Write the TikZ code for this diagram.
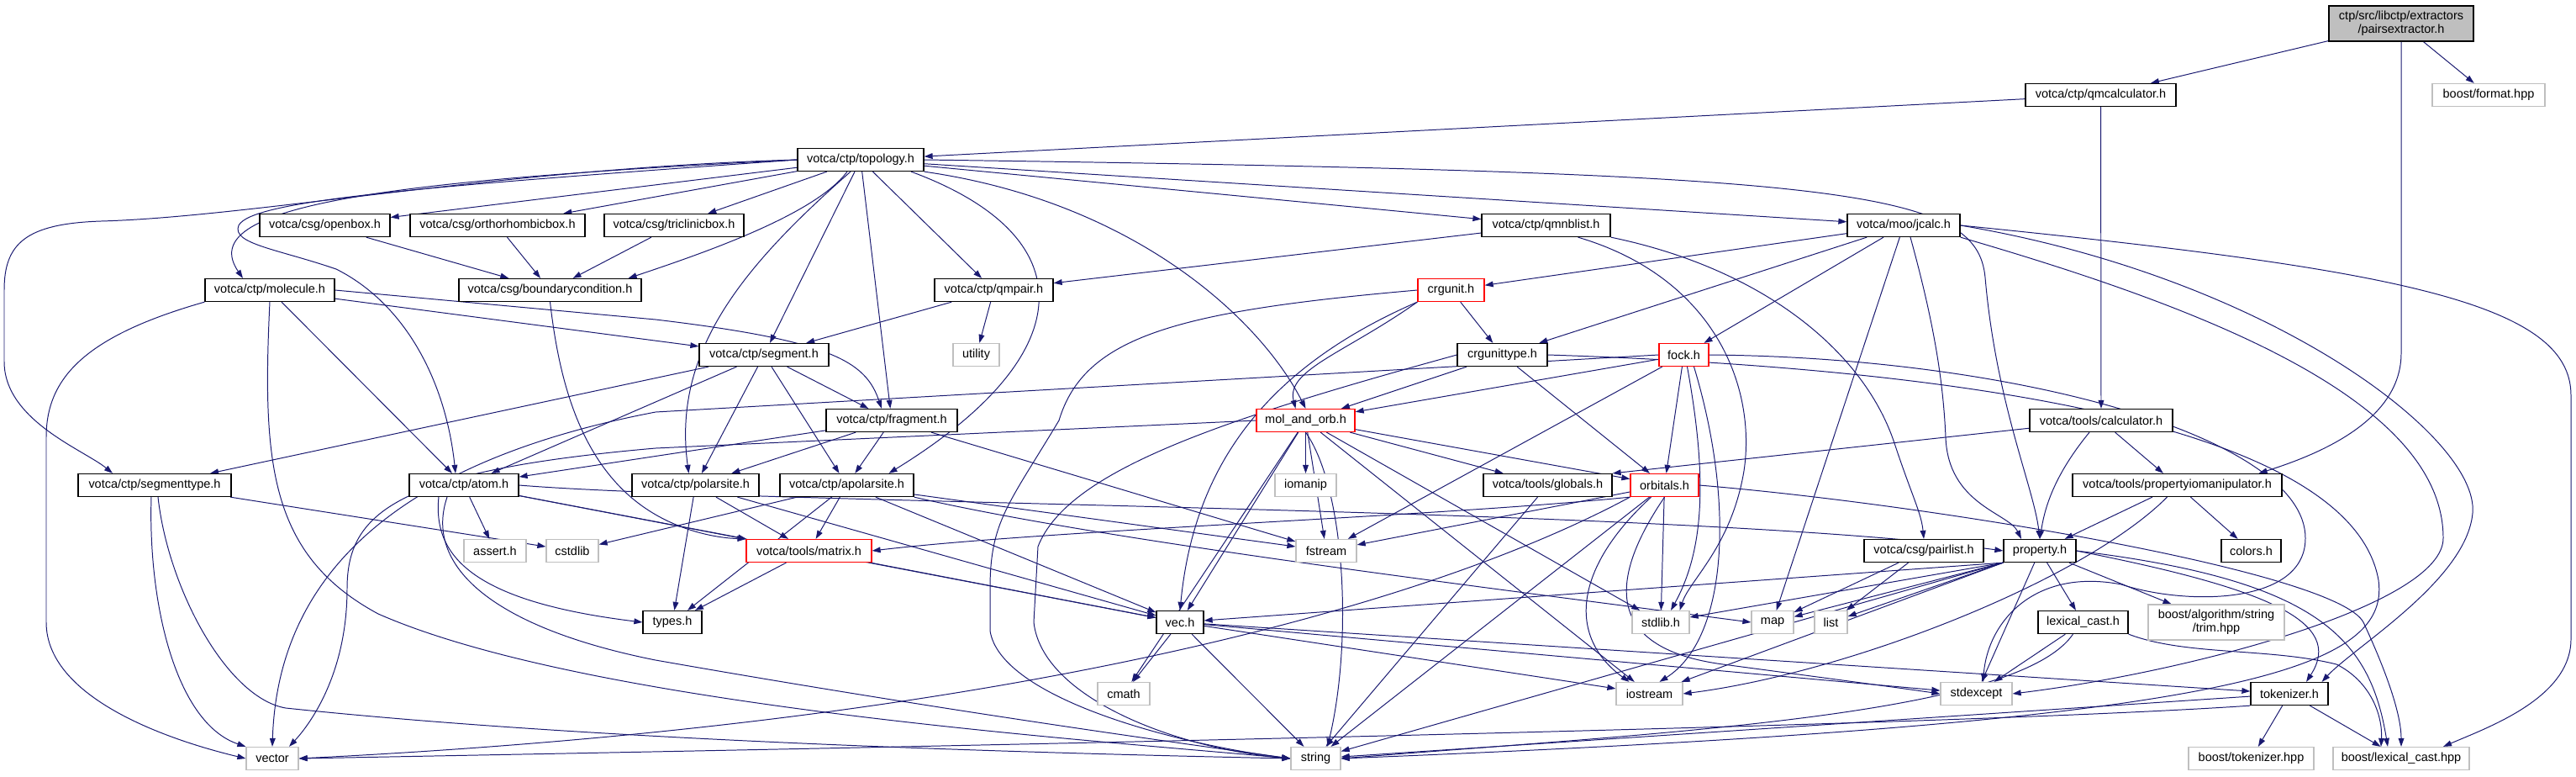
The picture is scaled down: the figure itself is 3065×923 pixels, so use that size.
\documentclass[tikz,border=0pt]{standalone}
\usepackage{fontspec}
\setmainfont{Liberation Sans}
\usetikzlibrary{arrows.meta,positioning}
\definecolor{edgeblue}{HTML}{191970}
\definecolor{extgray}{HTML}{BFBFBF}
\pgfdeclarelayer{edges}
\pgfsetlayers{edges,main}
\tikzset{
  hfile/.style={draw=black, fill=white, line width=0.9pt, minimum height=0.675cm, inner sep=0pt, font=\fontsize{10.3}{11.2}\selectfont},
  sysfile/.style={hfile, draw=extgray},
  trunc/.style={hfile, draw=red},
  rootfile/.style={hfile, fill=extgray, minimum height=1.05cm, align=center},
  bw/.style={minimum width=#1*0.025cm},
  dep/.style={draw=edgeblue, line width=0.7pt, -{Triangle[length=0.25cm,width=0.17cm]}}
}
\begin{document}
\begin{tikzpicture}[x=0.025cm, y=-0.025cm]
\useasboundingbox (0,0) rectangle (3065,923);
% files, one row of the include graph after the other
\node[rootfile, bw=172] (pe) at (2857,28) {ctp/src/libctp/extractors\\/pairsextractor.h};
\node[hfile, bw=179] (qmcalc) at (2499.5,113) {votca/ctp/qmcalculator.h};
\node[sysfile, bw=134] (format) at (2961,113) {boost/format.hpp};
\node[hfile, bw=150] (topo) at (1024,190) {votca/ctp/topology.h};
\node[hfile, bw=155] (openbox) at (386.5,268) {votca/csg/openbox.h};
\node[hfile, bw=208] (ortho) at (592,268) {votca/csg/orthorhombicbox.h};
\node[hfile, bw=166] (tricl) at (802,268) {votca/csg/triclinicbox.h};
\node[hfile, bw=153] (qmnb) at (1839.5,268) {votca/ctp/qmnblist.h};
\node[hfile, bw=134] (jcalc) at (2265,268) {votca/moo/jcalc.h};
\node[hfile, bw=154] (molecule) at (321,345) {votca/ctp/molecule.h};
\node[hfile, bw=217] (bcond) at (654.5,345) {votca/csg/boundarycondition.h};
\node[hfile, bw=141] (qmpair) at (1182.5,345) {votca/ctp/qmpair.h};
\node[trunc, bw=79] (crgunit) at (1726.5,345) {crgunit.h};
\node[hfile, bw=154] (segment) at (909,422) {votca/ctp/segment.h};
\node[sysfile, bw=55] (utility) at (1161.5,422) {utility};
\node[hfile, bw=107] (crgtype) at (1787.5,422) {crgunittype.h};
\node[trunc, bw=59] (fock) at (2003.5,422) {fock.h};
\node[hfile, bw=156] (fragment) at (1061,500) {votca/ctp/fragment.h};
\node[trunc, bw=117] (molorb) at (1553.5,500) {mol\_and\_orb.h};
\node[hfile, bw=170] (calc) at (2500,500) {votca/tools/calculator.h};
\node[hfile, bw=182] (segtype) at (184,577) {votca/ctp/segmenttype.h};
\node[hfile, bw=130] (atom) at (552,577) {votca/ctp/atom.h};
\node[hfile, bw=151] (polar) at (827.5,577) {votca/ctp/polarsite.h};
\node[hfile, bw=159] (apolar) at (1007.5,577) {votca/ctp/apolarsite.h};
\node[sysfile, bw=73] (iomanip) at (1553.5,577) {iomanip};
\node[hfile, bw=153] (globals) at (1841.5,577) {votca/tools/globals.h};
\node[trunc, bw=81] (orbitals) at (1980.5,577) {orbitals.h};
\node[hfile, bw=249] (propio) at (2590.5,577) {votca/tools/propertyiomanipulator.h};
\node[sysfile, bw=74] (assert) at (589,655) {assert.h};
\node[sysfile, bw=62] (cstdlib) at (681,655) {cstdlib};
\node[trunc, bw=149] (matrix) at (962.5,655) {votca/tools/matrix.h};
\node[sysfile, bw=72] (fstream) at (1578,655) {fstream};
\node[hfile, bw=142] (pairlist) at (2289,655) {votca/csg/pairlist.h};
\node[hfile, bw=86] (property) at (2427,655) {property.h};
\node[hfile, bw=71] (colors) at (2678.5,655) {colors.h};
\node[hfile, bw=70] (types) at (800,740) {types.h};
\node[hfile, bw=56] (vec) at (1404,740) {vec.h};
\node[sysfile, bw=68] (stdlib) at (1976,740) {stdlib.h};
\node[sysfile, bw=50] (map) at (2109,740) {map};
\node[sysfile, bw=39] (list) at (2178.5,740) {list};
\node[hfile, bw=107] (lexcast) at (2478.5,740) {lexical\_cast.h};
\node[sysfile, bw=162, minimum height=1.05cm, align=center] (trim) at (2637,740) {boost/algorithm/string\\/trim.hpp};
\node[sysfile, bw=62] (cmath) at (1337,825) {cmath};
\node[sysfile, bw=79] (iostream) at (1962.5,825) {iostream};
\node[sysfile, bw=85] (stdexcept) at (2351.5,825) {stdexcept};
\node[hfile, bw=92] (tokenizer) at (2724,825) {tokenizer.h};
\node[sysfile, bw=62] (vector) at (324,902) {vector};
\node[sysfile, bw=59] (string) at (1565.5,902) {string};
\node[sysfile, bw=149] (btok) at (2678.5,902) {boost/tokenizer.hpp};
\node[sysfile, bw=162] (blex) at (2857,902) {boost/lexical\_cast.hpp};
\begin{pgfonlayer}{edges}
% straight includes
\foreach \a/\b in {pe/qmcalc, pe/format, qmcalc/topo, qmcalc/calc,
  topo/openbox, topo/ortho, topo/tricl, topo/qmnb, topo/jcalc, topo/qmpair, topo/segment, topo/fragment,
  openbox/bcond, ortho/bcond, tricl/bcond, molecule/segment, molecule/atom,
  qmpair/segment, qmpair/utility, qmnb/qmpair, jcalc/crgunit, jcalc/crgtype, jcalc/fock, jcalc/map,
  crgunit/crgtype, crgtype/molorb, crgtype/orbitals, fock/molorb, fock/orbitals, fock/fstream,
  segment/segtype, segment/atom, segment/polar, segment/apolar, segment/fragment,
  fragment/atom, fragment/polar, fragment/apolar, fragment/fstream,
  molorb/iomanip, molorb/globals, molorb/orbitals, molorb/stdlib, molorb/fstream, molorb/vec, molorb/cmath, molorb/iostream,
  calc/propio, segtype/cstdlib, atom/assert, atom/matrix, atom/vec,
  polar/types, polar/matrix, polar/vec, apolar/types, apolar/matrix, apolar/vec, apolar/cstdlib, apolar/fstream,
  globals/string, orbitals/fstream, orbitals/stdlib, orbitals/string,
  propio/property, propio/colors, pairlist/map, pairlist/list,
  property/stdexcept, property/lexcast, property/trim, matrix/types, matrix/vec,
  vec/cmath, vec/iostream, vec/string, vec/stdexcept, vec/tokenizer,
  lexcast/stdexcept, tokenizer/btok, tokenizer/blex, tokenizer/string}
  \draw[dep] (\a) -- (\b);
\foreach \b in {vec, stdlib, map, list, iostream, string}
  \draw[dep] (property.south west) -- (\b);
\draw[dep] (calc) -- (globals.north east);
% curved includes
\draw[dep] (pe.south) -- (2857,420) .. controls (2857,500) and (2760,540) .. ([xshift=-0.7cm]propio.north east);
\draw[dep] ([xshift=-0.4cm]topo.south) .. controls (970,255) and (840,300) .. ([xshift=-0.4cm]bcond.north east);
\draw[dep] (topo.west) .. controls (450,215) and (230,245) .. ([xshift=-0.8cm]molecule.north);
\draw[dep] (topo.west) .. controls (600,200) and (300,258) .. (120,263) .. controls (30,266) and (5,290) .. (5,345) -- (5,430) .. controls (5,500) and (100,535) .. ([xshift=-1.25cm]segtype.north);
\draw[dep] (topo.west) .. controls (500,222) and (300,238) .. (284,268) .. controls (275,290) and (330,296) .. (400,320) .. controls (480,360) and (530,450) .. ([xshift=-0.25cm]atom.north);
\draw[dep] ([xshift=-0.3cm]topo.south) .. controls (880,320) and (800,420) .. ([xshift=-0.2cm]polar.north);
\draw[dep] ([xshift=1.5cm]topo.south) .. controls (1290,280) and (1290,420) .. ([xshift=1.25cm]apolar.north);
\draw[dep] (topo.south east) .. controls (1350,240) and (1500,380) .. (molorb.north);
\draw[dep] (topo.east) .. controls (2200,205) and (2352,225) .. (2362,330) .. controls (2375,480) and (2420,580) .. (property.north);
\draw[dep] (molecule.east) -- (780,380) .. controls (990,405) and (1030,430) .. ([xshift=-0.3cm]fragment.north);
\draw[dep] (molecule.south west) .. controls (100,400) and (55,450) .. (55,520) -- (55,740) .. controls (55,830) and (200,880) .. (vector.west);
\draw[dep] (molecule.south) .. controls (312,550) and (320,660) .. (450,730) .. controls (700,840) and (1300,880) .. (string.west);
\draw[dep] (bcond.south) .. controls (665,450) and (690,560) .. (780,612) .. controls (820,635) and (860,640) .. (matrix.north west);
\draw[dep] ([xshift=-0.1cm]segtype.south) .. controls (176,720) and (210,860) .. (vector.north west);
\draw[dep] ([xshift=0.1cm]segtype.south) .. controls (200,700) and (270,830) .. (340,842) .. controls (700,880) and (1200,895) .. (string.west);
\draw[dep] ([xshift=-0.75cm]atom.south) .. controls (515,660) and (560,715) .. (types.west);
\draw[dep] ([xshift=-0.5cm]atom.south) .. controls (505,670) and (580,745) .. (780,785) .. controls (1150,850) and (1450,890) .. (string.west);
\draw[dep] (atom.east) .. controls (900,600) and (2000,603) .. (property.west);
\draw[dep] (apolar.south east) .. controls (1300,640) and (1700,690) .. (map.west);
\draw[dep] ([xshift=0.95cm]qmnb.south) .. controls (2040,330) and (2090,460) .. (2075,560) .. controls (2060,650) and (2010,690) .. ([xshift=-0.3cm]stdlib.north east);
\draw[dep] (qmnb.south east) .. controls (2100,320) and (2220,420) .. (2255,530) .. controls (2275,590) and (2286,610) .. (pairlist.north);
\draw[dep] ([xshift=0.2cm]jcalc.south) .. controls (2300,380) and (2312,450) .. (2315,520) .. controls (2318,600) and (2390,610) .. ([xshift=-0.55cm]property.north);
\draw[dep] (jcalc.south east) .. controls (2600,360) and (2907,470) .. (2907,640) .. controls (2907,720) and (2600,800) .. (stdexcept.east);
\draw[dep] (jcalc.east) .. controls (2700,330) and (2950,520) .. (2942,610) .. controls (2935,690) and (2800,770) .. ([xshift=-0.2cm]tokenizer.north east);
\draw[dep] (jcalc.east) .. controls (2850,320) and (3059,360) .. (3059,470) -- (3059,760) .. controls (3059,830) and (2960,865) .. ([xshift=1.25cm]blex.north);
\draw[dep] (crgunit.south west) .. controls (1600,420) and (1530,440) .. ([xshift=-0.3cm]molorb.north);
\draw[dep] (crgunit.south west) .. controls (1500,440) and (1420,560) .. (vec.north);
\draw[dep] (crgunit.west) .. controls (1400,370) and (1290,400) .. (1260,500) .. controls (1200,600) and (1178,620) .. (1178,700) -- (1178,750) .. controls (1190,830) and (1400,885) .. (string.west);
\draw[dep] (crgtype.west) .. controls (1450,500) and (1270,560) .. (1235,650) -- (1230,740) .. controls (1240,830) and (1400,890) .. (string.west);
\draw[dep] (crgtype.east) .. controls (2400,440) and (2800,520) .. (2830,690) .. controls (2845,800) and (2650,860) .. (string.east);
\draw[dep] (fock.east) .. controls (2400,425) and (2743,520) .. (2743,640) .. controls (2743,720) and (2600,720) .. (2524,695) .. controls (2420,675) and (2365,740) .. ([xshift=0.2cm]stdexcept.north);
\draw[dep] (fock.west) -- (780,490) .. controls (450,553) and (330,700) .. (vector.north);
\draw[dep] ([xshift=0.1cm]fock.south) .. controls (2030,560) and (2030,650) .. ([xshift=0.3cm]stdlib.north);
\draw[dep] ([xshift=0.3cm]fock.south) .. controls (2065,600) and (2055,760) .. ([xshift=0.3cm]iostream.north);
\draw[dep] (molorb.west) -- (780,533) .. controls (470,560) and (413,610) .. (413,700) .. controls (413,800) and (370,860) .. ([xshift=0.5cm]vector.north);
\draw[dep] (molorb.south) .. controls (1600,580) and (1610,760) .. ([xshift=0.35cm]string.north);
\draw[dep] (orbitals.east) .. controls (2300,600) and (2780,680) .. (2812,740) .. controls (2840,800) and (2857,850) .. (blex.north);
\draw[dep] (orbitals.south west) .. controls (1700,615) and (1250,630) .. (matrix.east);
\draw[dep] (orbitals.south west) .. controls (1700,720) and (1200,860) .. (vector.east);
\draw[dep] (orbitals.south) .. controls (1920,680) and (1900,770) .. (2050,790) .. controls (2200,810) and (2260,818) .. (stdexcept.west);
\draw[dep] ([xshift=-0.4cm]orbitals.south) .. controls (1868,680) and (1868,760) .. ([xshift=-0.6cm]iostream.north);
\draw[dep] ([xshift=-0.35cm]calc.south) .. controls (2440,570) and (2432,610) .. (property.north);
\draw[dep] ([xshift=-0.3cm]propio.south) .. controls (2480,690) and (2200,800) .. (iostream.east);
\draw[dep] (property.east) .. controls (2700,700) and (2790,740) .. ([xshift=0.5cm]tokenizer.north);
\draw[dep] (property.east) .. controls (2760,690) and (2820,760) .. ([xshift=-0.4cm]blex.north);
\draw[dep] ([xshift=-0.3cm]lexcast.south) .. controls (2400,850) and (2000,870) .. (string.east);
\draw[dep] (lexcast.south east) .. controls (2600,780) and (2700,770) .. (2780,790) .. controls (2820,810) and (2835,850) .. ([xshift=-0.6cm]blex.north);
\draw[dep] (tokenizer.south west) .. controls (2300,865) and (1000,890) .. (vector.east);
\end{pgfonlayer}
\end{tikzpicture}
\end{document}
